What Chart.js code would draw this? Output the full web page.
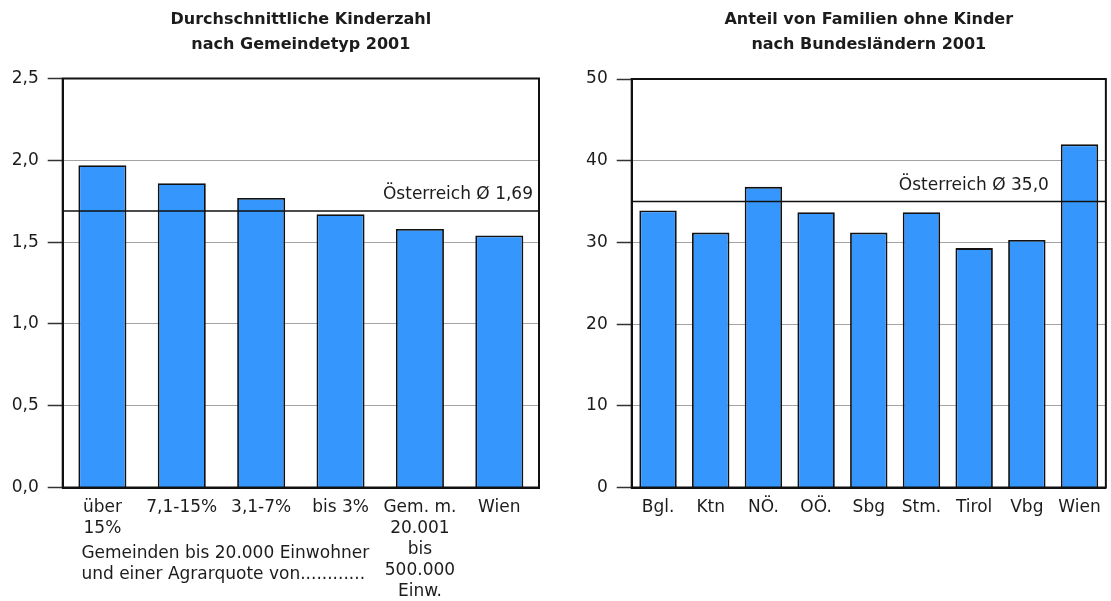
<!DOCTYPE html>
<html>
<head>
<meta charset="utf-8">
<script src="https://cdn.jsdelivr.net/npm/chart.js@4.4.1/dist/chart.umd.min.js"></script>
<style>
  html, body { margin: 0; padding: 0; background: #fff; }
  #wrap { position: relative; width: 1111px; height: 601px; overflow: hidden; background: #fff; }
  .panel { position: absolute; top: 0; height: 601px; }
  #p1 { left: 0; width: 555px; }
  #p2 { left: 555px; width: 556px; }
</style>
</head>
<body>
<div id="wrap">
  <div class="panel" id="p1"><canvas id="c1"></canvas></div>
  <div class="panel" id="p2"><canvas id="c2"></canvas></div>
</div>
<script>
// Average number of children by municipality type, 2001
const typeLabels = [['über', '15%'], '7,1-15%', '3,1-7%', 'bis 3%', ['Gem. m.', '20.001', 'bis', '500.000', 'Einw.'], 'Wien'];
const childrenPerFamily = [1.97, 1.86, 1.77, 1.67, 1.58, 1.54];
const childrenAustria = 1.69;
const childrenTicks = ['0,0', '0,5', '1,0', '1,5', '2,0', '2,5'];
const groupNote = ['Gemeinden bis 20.000 Einwohner', 'und einer Agrarquote von............'];
const leftTitle = ['Durchschnittliche Kinderzahl', 'nach Gemeindetyp 2001'];

// Share of families without children by federal state, 2001
const stateLabels = ['Bgl.', 'Ktn', 'NÖ.', 'OÖ.', 'Sbg', 'Stm.', 'Tirol', 'Vbg', 'Wien'];
const childlessShare = [33.9, 31.2, 36.8, 33.7, 31.2, 33.7, 29.3, 30.3, 42.0];
const childlessAustria = 35.0;
const shareTicks = ['0', '10', '20', '30', '40', '50'];
const rightTitle = ['Anteil von Familien ohne Kinder', 'nach Bundesländern 2001'];

const FONT = '"DejaVu Sans", "Liberation Sans", sans-serif';
const TEXT = '#1c1c1c';
const BAR = '#3597fd';

function fmt(v, digits) { return v.toFixed(digits).replace('.', ','); }

// Frame around the plot, Austria average line with its label, optional note under the axis
const framePlugin = {
  id: 'frame',
  afterDatasetsDraw(chart, args, opts) {
    const { ctx, chartArea: a, scales: { x, y } } = chart;
    ctx.save();
    const yy = y.getPixelForValue(opts.avg);
    ctx.strokeStyle = '#111';
    ctx.lineWidth = 1.5;
    ctx.beginPath();
    ctx.moveTo(a.left, yy);
    ctx.lineTo(a.right, yy);
    ctx.stroke();

    ctx.lineWidth = 2;
    ctx.strokeRect(a.left, a.top, a.right - a.left, a.bottom - a.top);

    ctx.font = '17px ' + FONT;
    ctx.fillStyle = TEXT;
    ctx.textAlign = 'right';
    ctx.textBaseline = 'middle';
    ctx.fillText('Österreich Ø ' + fmt(opts.avg, opts.digits), a.right - opts.labelInset, yy - 16);

    if (opts.note) {
      ctx.textAlign = 'left';
      ctx.textBaseline = 'alphabetic';
      const nx = x.getPixelForValue(0) - 21;
      opts.note.forEach((line, i) => ctx.fillText(line, nx, a.bottom + 70.5 + i * 21));
    }
    ctx.restore();
  }
};

function makeChart(id, cfg) {
  return new Chart(document.getElementById(id), {
    type: 'bar',
    data: {
      labels: cfg.labels,
      datasets: [{
        data: cfg.values,
        backgroundColor: BAR,
        borderColor: '#111',
        borderWidth: 1.8,
        barPercentage: cfg.barPct,
        categoryPercentage: 1
      }]
    },
    options: {
      responsive: true,
      maintainAspectRatio: false,
      animation: false,
      layout: { padding: { left: 0, right: cfg.padRight, top: 0, bottom: 0 } },
      plugins: {
        legend: { display: false },
        tooltip: { enabled: false },
        title: {
          display: true,
          text: cfg.title,
          fullSize: false,
          color: TEXT,
          font: { family: FONT, size: 16, weight: 'bold', lineHeight: '24.5px' },
          padding: { top: 7.75, bottom: cfg.titleGap }
        },
        frame: { avg: cfg.avg, digits: cfg.digits, labelInset: cfg.labelInset, note: cfg.note }
      },
      scales: {
        x: {
          grid: { display: false, drawTicks: false },
          border: { color: '#111', width: 2 },
          ticks: {
            autoSkip: false, maxRotation: 0, minRotation: 0,
            color: TEXT, padding: 10,
            font: { family: FONT, size: 17, lineHeight: '21px' }
          },
          afterFit(s) { s.height = 113.5; }
        },
        y: {
          min: 0, max: cfg.max,
          ticks: {
            stepSize: cfg.step,
            color: TEXT, padding: 9,
            font: { family: FONT, size: 17 },
            callback: (v, i) => cfg.ticks[i]
          },
          grid: { color: '#a3a3a3', lineWidth: 1, tickLength: 15, tickColor: '#333', tickWidth: 1.5 },
          border: { color: '#111', width: 2 },
          afterFit(s) { s.width = cfg.axisWidth; }
        }
      }
    },
    plugins: [framePlugin]
  });
}

makeChart('c1', {
  labels: typeLabels, values: childrenPerFamily, avg: childrenAustria, digits: 2,
  ticks: childrenTicks, max: 2.5, step: 0.5, title: leftTitle, note: groupNote,
  barPct: 0.605, axisWidth: 62.7, padRight: 16, labelInset: 6, titleGap: 21.75
});

makeChart('c2', {
  labels: stateLabels, values: childlessShare, avg: childlessAustria, digits: 1,
  ticks: shareTicks, max: 50, step: 10, title: rightTitle, note: null,
  barPct: 0.71, axisWidth: 76.7, padRight: 3, labelInset: 57, titleGap: 22.25
});
</script>
</body>
</html>
